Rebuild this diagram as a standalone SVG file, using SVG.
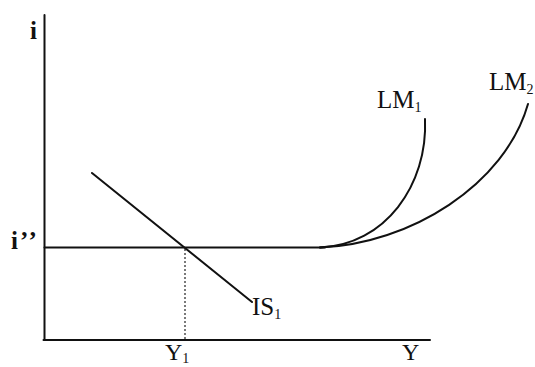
<svg xmlns="http://www.w3.org/2000/svg" width="535" height="367" viewBox="0 0 535 367">
<style>
.ln{fill:none;stroke:#111;stroke-width:2;stroke-linecap:round}
.dot{fill:none;stroke:#222;stroke-width:1.2;stroke-dasharray:2 2}
text{font-family:"Liberation Serif","Times New Roman",serif;font-size:25px;fill:#111}
.ax{font-size:24px}
.sub{font-size:14px}
.b{font-weight:bold}
</style>
<rect width="535" height="367" fill="#fff"/>
<g id="axes">
<line class="ln" x1="44.5" y1="15" x2="44.5" y2="340"/>
<line class="ln" x1="43.5" y1="340" x2="430" y2="340"/>
<text class="b" x="30" y="39">i</text>
<text class="ax" x="402" y="360">Y</text>
</g>
<g id="connectors">
<line class="dot" x1="185" y1="249" x2="185" y2="339"/>
</g>
<g id="horizontal">
<line class="ln" x1="44.5" y1="247.5" x2="325" y2="247.5"/>
<text class="b" x="11" y="249" letter-spacing="2">i’’</text>
</g>
<g id="LM1">
<path class="ln" d="M320 247.5 C385 245 428 185 425 119"/>
<text x="377" y="108">LM<tspan class="sub" dy="4">1</tspan></text>
</g>
<g id="LM2">
<path class="ln" d="M320 247.5 C410 244 505 185 528 104"/>
<text x="489" y="90">LM<tspan class="sub" dy="4">2</tspan></text>
</g>
<g id="IS1">
<line class="ln" x1="92" y1="173" x2="252" y2="302"/>
<text x="252" y="315">IS<tspan class="sub" dy="4">1</tspan></text>
</g>
<g id="Y1">
<text class="ax" x="165" y="360">Y<tspan class="sub" dy="3">1</tspan></text>
</g>
</svg>
